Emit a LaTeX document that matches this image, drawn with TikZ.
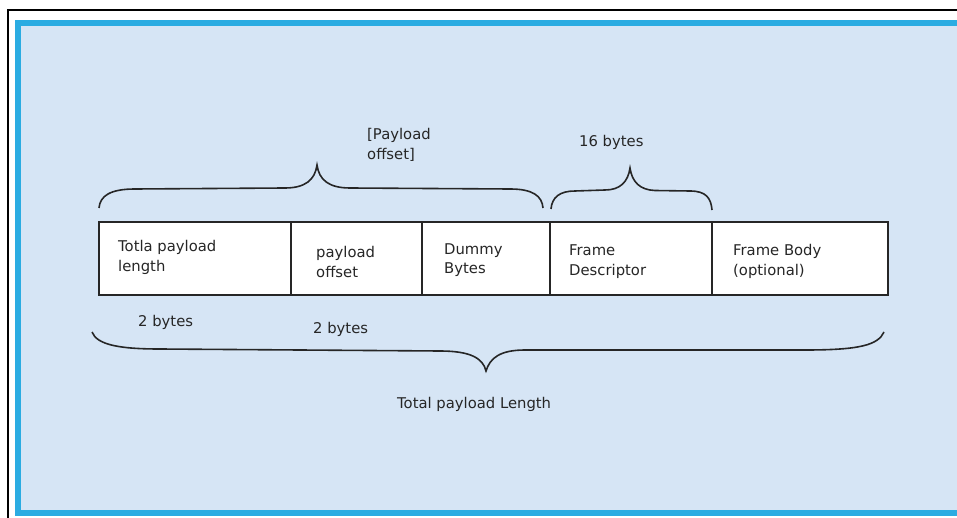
\documentclass[tikz,border=0pt]{standalone}
\usepackage{fontspec}
\setmainfont{DejaVu Sans}
\definecolor{bgblue}{HTML}{D6E5F5}
\definecolor{rimblue}{HTML}{2BACE2}
\definecolor{ink}{HTML}{262626}
\begin{document}
\begin{tikzpicture}[x=1pt,y=-1pt,
  field/.style={draw=ink,line width=1.7pt,fill=white,inner sep=0pt,minimum height=73pt},
  lbl/.style={text=ink,font=\fontsize{14.8}{20}\selectfont,align=left,inner sep=0pt,anchor=base west},
  bracepath/.style={draw=ink,line width=1.6pt}]
\useasboundingbox (0,0) rectangle (957,518);
\fill[white] (0,0) rectangle (957,518);
\draw[black,line width=1.2pt] (8,518) -- (8,10) -- (957,10);
\draw[rimblue,fill=bgblue,line width=6pt] (18,23) -- (964,23) -- (964,513) -- (18,513) -- cycle;

% fields
\node[field,minimum width=192pt] (f1) at (195,258.5) {};
\node[field,minimum width=131pt] (f2) at (356.5,258.5) {};
\node[field,minimum width=128pt] (f3) at (486,258.5) {};
\node[field,minimum width=162pt] (f4) at (631,258.5) {};
\node[field,minimum width=176pt] (f5) at (800,258.5) {};

\node[lbl] (t1) at (118,272) {Totla payload\\length};
\node[lbl] (t2) at (316,277) {payload\\offset};
\node[lbl] (t3) at (444,274) {Dummy\\Bytes};
\node[lbl] (t4) at (569,276) {Frame\\Descriptor};
\node[lbl] (t5) at (733,276) {Frame Body\\(optional)};

% top braces
\draw[bracepath] (99,208) .. controls (100,196) and (110,189) .. (135,189)
  -- (285,188) .. controls (305,188) and (315,180) .. (317,165)
  .. controls (319,180) and (329,188) .. (350,188)
  -- (510,189) .. controls (533,189) and (542,196) .. (543,208);
\draw[bracepath] (551,209) .. controls (552,197) and (560,191) .. (575,191)
  -- (605,190) .. controls (620,190) and (628,182) .. (630,168)
  .. controls (632,182) and (640,190) .. (655,190.5)
  -- (690,191) .. controls (706,191) and (711,198) .. (712,210);
% bottom brace
\draw[bracepath] (92,332) .. controls (97,345) and (120,349) .. (160,349)
  -- (440,351) .. controls (470,351) and (483,358) .. (486,371)
  .. controls (490,358) and (500,350) .. (525,350)
  -- (805,350) .. controls (860,350) and (878,345) .. (884,332);

\node[lbl] (p1) at (367,160) {[Payload\\offset]};
\node[lbl] (p2) at (579,147) {16 bytes};
\node[lbl] (b1) at (138,326) {2 bytes};
\node[lbl] (b2) at (313,333) {2 bytes};
\node[lbl] (b3) at (397,408) {Total payload Length};
\end{tikzpicture}
\end{document}
